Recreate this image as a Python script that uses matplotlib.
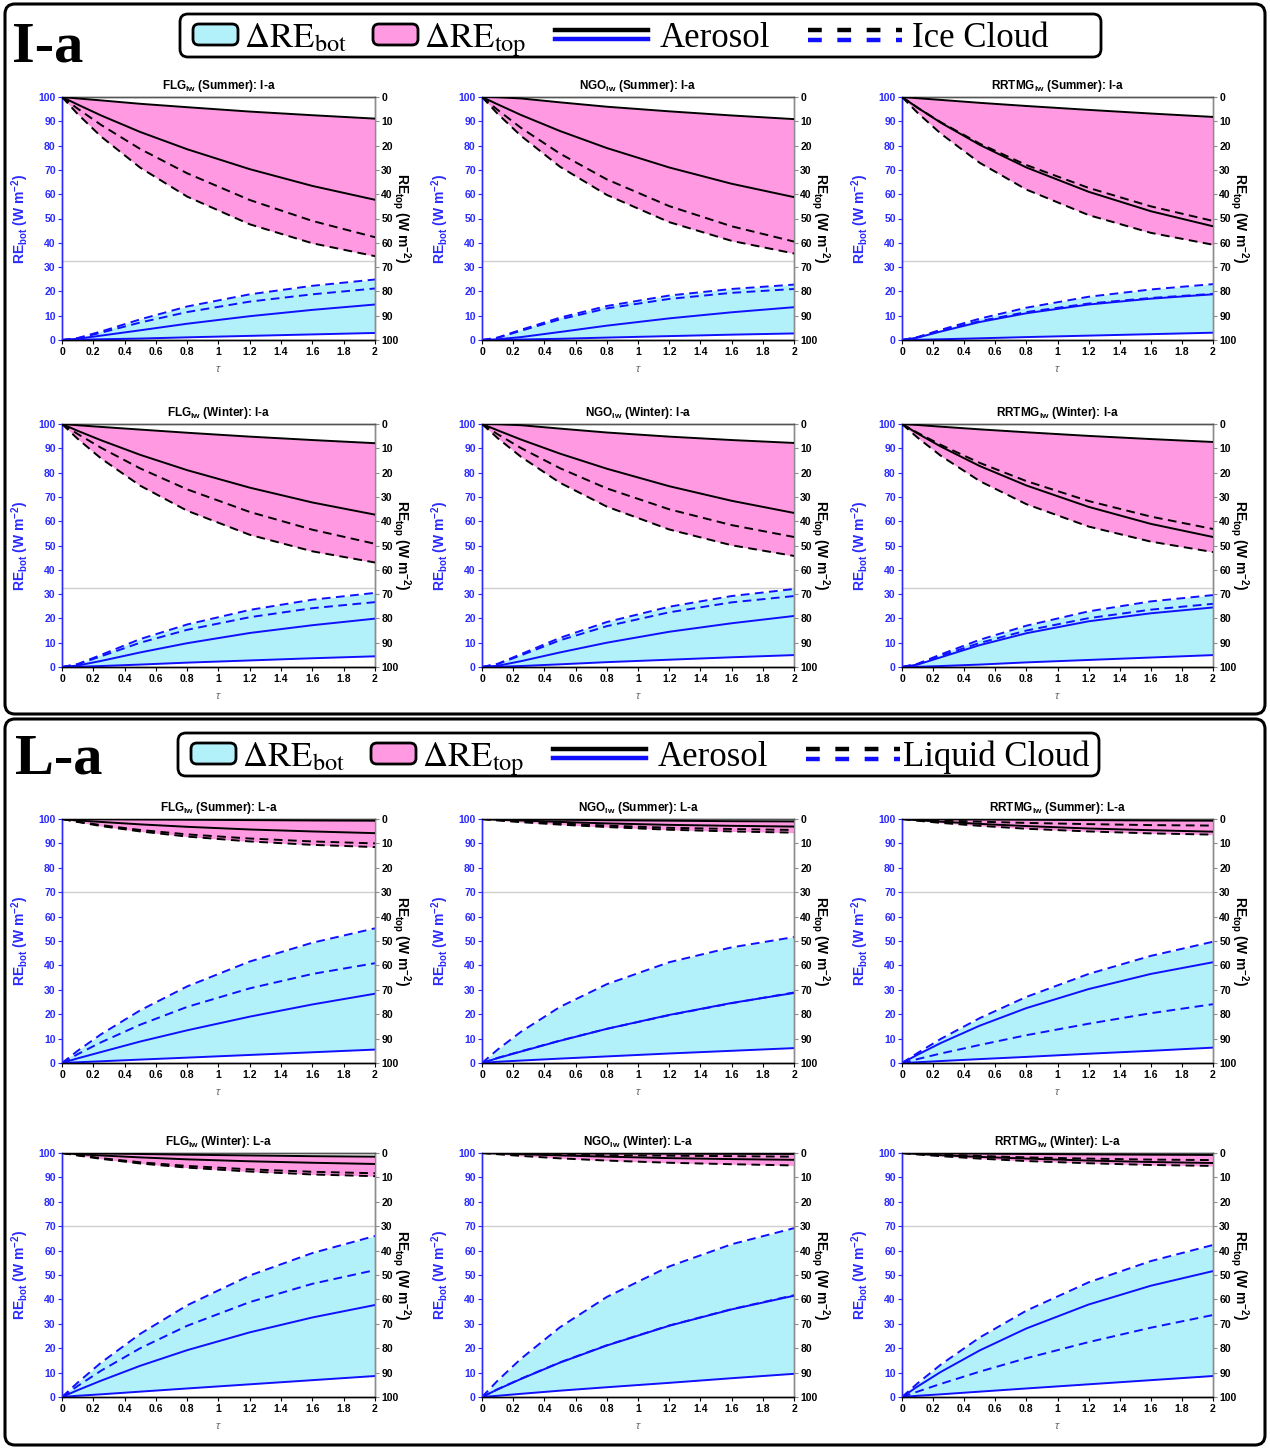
import numpy as np
import matplotlib
matplotlib.use("Agg")
import matplotlib.pyplot as plt
from matplotlib.patches import FancyBboxPatch
from matplotlib.lines import Line2D

CYAN = "#b2f0fa"
PINK = "#ff99e2"
BLUE = "#1010ff"
TICKBLUE = "#2a2aff"
GREY = "#8c8c8c"

plt.rcParams["font.family"] = ["Liberation Sans", "DejaVu Sans"]
plt.rcParams["mathtext.fontset"] = "custom"
plt.rcParams["mathtext.rm"] = "Liberation Sans"
plt.rcParams["mathtext.bf"] = "Liberation Sans:bold"
plt.rcParams["mathtext.it"] = "Liberation Sans:italic"

TAU = [0, 0.1, 0.25, 0.5, 0.8, 1.2, 1.6, 2.0]

# each block: [aerosol a, aerosol b, cloud a, cloud b]
# *_TOP on the RE_top axis (right, inverted), *_BOT on the RE_bot axis (left)
IA_FLG_SUM_TOP = [[0, 0.6, 1.4, 2.8, 4.2, 6.0, 7.5, 8.9],
                  [0, 3.1, 7.6, 14.4, 21.5, 29.7, 36.6, 42.3],
                  [0, 4.8, 11.5, 21.4, 31.4, 42.4, 51.0, 57.7],
                  [0, 7.0, 16.3, 29.1, 41.0, 52.4, 60.2, 65.5]]
IA_FLG_SUM_BOT = [[0, 0.1, 0.3, 0.6, 1.1, 1.7, 2.3, 2.9],
                  [0, 0.5, 1.8, 4.0, 6.7, 9.8, 12.4, 14.6],
                  [0, 0.8, 3.5, 8.5, 13.8, 18.8, 22.3, 24.9],
                  [0, 0.7, 3.0, 7.2, 11.5, 15.8, 18.8, 21.2]]
IA_NGO_SUM_TOP = [[0, 0.1, 0.6, 2.2, 4.0, 5.9, 7.6, 9.1],
                  [0, 3.0, 7.4, 14.0, 21.0, 29.0, 35.7, 41.2],
                  [0, 5.3, 12.7, 23.3, 33.9, 44.9, 53.2, 59.5],
                  [0, 6.9, 16.0, 28.7, 40.3, 51.5, 59.2, 64.4]]
IA_NGO_SUM_BOT = [[0, 0.05, 0.2, 0.5, 1.0, 1.6, 2.2, 2.7],
                  [0, 0.3, 1.2, 3.3, 5.9, 8.9, 11.4, 13.5],
                  [0, 1.0, 4.2, 9.2, 14.0, 18.3, 21.0, 22.8],
                  [0, 0.9, 3.8, 8.5, 13.0, 16.9, 19.4, 21.0]]
IA_RRT_SUM_TOP = [[0, 0.5, 1.2, 2.4, 3.7, 5.3, 6.8, 8.2],
                  [0, 4.4, 10.6, 19.7, 29.0, 39.0, 47.0, 53.2],
                  [0, 4.4, 10.4, 19.2, 28.0, 37.4, 45.0, 51.0],
                  [0, 6.5, 15.1, 27.1, 38.1, 48.6, 55.9, 60.8]]
IA_RRT_SUM_BOT = [[0, 0.1, 0.3, 0.7, 1.2, 1.8, 2.4, 3.0],
                  [0, 1.0, 3.5, 7.4, 11.0, 14.6, 17.0, 18.8],
                  [0, 1.2, 4.2, 8.8, 13.3, 17.8, 20.8, 23.0],
                  [0, 1.1, 3.8, 7.8, 11.5, 15.0, 17.3, 19.0]]
IA_FLG_WIN_TOP = [[0, 0.5, 1.2, 2.3, 3.6, 5.2, 6.6, 7.9],
                  [0, 2.8, 6.7, 12.7, 19.0, 26.2, 32.3, 37.3],
                  [0, 4.1, 9.8, 18.3, 26.9, 36.2, 43.5, 49.3],
                  [0, 6.1, 14.2, 25.4, 35.7, 45.6, 52.4, 57.0]]
IA_FLG_WIN_BOT = [[0, 0.1, 0.4, 1.0, 1.8, 2.7, 3.6, 4.4],
                  [0, 0.6, 2.5, 6.0, 9.8, 14.0, 17.2, 19.9],
                  [0, 1.2, 5.0, 11.5, 17.5, 23.5, 27.7, 30.5],
                  [0, 1.1, 4.4, 10.0, 15.3, 20.5, 24.2, 26.7]]
IA_NGO_WIN_TOP = [[0, 0.1, 0.5, 1.9, 3.5, 5.2, 6.6, 7.8],
                  [0, 2.6, 6.4, 12.2, 18.4, 25.6, 31.6, 36.6],
                  [0, 4.2, 9.9, 18.2, 26.5, 35.1, 41.6, 46.5],
                  [0, 5.8, 13.5, 24.2, 34.0, 43.4, 49.9, 54.3]]
IA_NGO_WIN_BOT = [[0, 0.1, 0.4, 1.1, 2.0, 3.0, 4.0, 4.9],
                  [0, 0.5, 2.4, 6.0, 10.0, 14.5, 18.0, 21.0],
                  [0, 1.3, 5.3, 12.0, 18.5, 24.8, 29.2, 32.1],
                  [0, 1.2, 4.8, 11.0, 16.8, 22.5, 26.6, 29.2]]
IA_RRT_WIN_TOP = [[0, 0.4, 1.1, 2.2, 3.4, 4.9, 6.2, 7.4],
                  [0, 3.9, 9.3, 17.3, 25.3, 34.1, 41.1, 46.5],
                  [0, 3.6, 8.6, 16.0, 23.5, 31.7, 38.1, 43.2],
                  [0, 5.6, 13.1, 23.5, 33.0, 42.2, 48.4, 52.7]]
IA_RRT_WIN_BOT = [[0, 0.1, 0.4, 1.0, 1.9, 2.9, 3.9, 4.9],
                  [0, 1.0, 4.0, 9.0, 13.9, 18.8, 22.1, 24.5],
                  [0, 1.3, 5.2, 11.2, 17.0, 22.9, 27.0, 29.6],
                  [0, 1.2, 4.6, 9.9, 15.0, 20.1, 23.6, 26.0]]

LA_FLG_SUM_TOP = [[0, 0.05, 0.1, 0.2, 0.3, 0.45, 0.6, 0.7],
                  [0, 0.6, 1.2, 2.2, 3.2, 4.3, 5.1, 5.8],
                  [0, 1.1, 2.5, 4.5, 6.3, 8.0, 9.2, 10.0],
                  [0, 1.2, 2.9, 5.1, 7.2, 9.2, 10.6, 11.5]]
LA_FLG_SUM_BOT = [[0, 0.3, 0.7, 1.4, 2.2, 3.3, 4.4, 5.5],
                  [0, 1.9, 4.5, 8.8, 13.4, 19.0, 24.0, 28.4],
                  [0, 5.0, 11.8, 21.6, 31.4, 41.6, 49.3, 55.2],
                  [0, 3.6, 8.5, 15.7, 23.0, 30.6, 36.5, 40.9]]
LA_NGO_SUM_TOP = [[0, 0.05, 0.1, 0.3, 0.5, 0.7, 0.9, 1.0],
                  [0, 0.3, 0.6, 1.2, 1.8, 2.4, 2.8, 3.1],
                  [0, 0.4, 0.9, 1.8, 2.7, 3.6, 4.1, 4.5],
                  [0, 0.6, 1.3, 2.3, 3.3, 4.4, 5.1, 5.6]]
LA_NGO_SUM_BOT = [[0, 0.5, 1.0, 1.8, 2.7, 3.9, 5.0, 6.1],
                  [0, 2.0, 4.7, 9.1, 14.0, 19.7, 24.6, 28.7],
                  [0, 5.5, 12.8, 23.0, 32.3, 41.3, 47.4, 51.6],
                  [0, 2.1, 4.8, 9.2, 14.0, 19.6, 24.5, 28.9]]
LA_RRT_SUM_TOP = [[0, 0.05, 0.1, 0.2, 0.3, 0.45, 0.6, 0.7],
                  [0, 0.5, 1.1, 2.0, 2.9, 3.9, 4.6, 5.2],
                  [0, 0.3, 0.6, 1.1, 1.6, 2.1, 2.5, 2.7],
                  [0, 0.7, 1.6, 2.8, 4.0, 5.1, 5.9, 6.4]]
LA_RRT_SUM_BOT = [[0, 0.3, 0.8, 1.6, 2.5, 3.8, 5.0, 6.3],
                  [0, 3.4, 8.2, 15.3, 22.5, 30.3, 36.5, 41.3],
                  [0, 4.1, 9.9, 18.4, 27.1, 36.5, 43.9, 49.7],
                  [0, 1.6, 3.9, 7.4, 11.4, 16.1, 20.4, 24.1]]
LA_FLG_WIN_TOP = [[0, 0.1, 0.2, 0.4, 0.7, 1.0, 1.3, 1.5],
                  [0, 0.5, 1.0, 1.8, 2.6, 3.4, 4.0, 4.5],
                  [0, 0.9, 2.1, 3.8, 5.3, 6.7, 7.7, 8.3],
                  [0, 1.0, 2.4, 4.3, 6.0, 7.6, 8.8, 9.5]]
LA_FLG_WIN_BOT = [[0, 0.5, 1.1, 2.2, 3.5, 5.2, 6.9, 8.6],
                  [0, 2.8, 6.7, 12.8, 19.2, 26.5, 32.6, 37.7],
                  [0, 5.9, 14.1, 25.9, 37.6, 49.8, 59.0, 66.0],
                  [0, 4.5, 10.8, 20.0, 29.2, 38.9, 46.4, 52.0]]
LA_NGO_WIN_TOP = [[0, 0.03, 0.07, 0.14, 0.2, 0.3, 0.35, 0.4],
                  [0, 0.2, 0.5, 1.0, 1.5, 2.1, 2.5, 2.8],
                  [0, 0.15, 0.3, 0.6, 0.9, 1.1, 1.3, 1.5],
                  [0, 0.5, 1.2, 2.2, 3.1, 4.0, 4.6, 5.1]]
LA_NGO_WIN_BOT = [[0, 0.5, 1.3, 2.6, 4.0, 5.8, 7.7, 9.5],
                  [0, 3.1, 7.4, 14.1, 21.1, 29.2, 35.9, 41.5],
                  [0, 6.7, 15.7, 28.6, 41.0, 53.5, 62.6, 69.2],
                  [0, 3.2, 7.5, 14.2, 21.2, 29.3, 36.0, 41.7]]
LA_RRT_WIN_TOP = [[0, 0.05, 0.1, 0.25, 0.4, 0.55, 0.7, 0.8],
                  [0, 0.4, 0.9, 1.6, 2.3, 3.1, 3.7, 4.1],
                  [0, 0.3, 0.6, 1.2, 1.8, 2.3, 2.7, 2.9],
                  [0, 0.6, 1.3, 2.3, 3.3, 4.2, 4.9, 5.3]]
LA_RRT_WIN_BOT = [[0, 0.5, 1.1, 2.2, 3.5, 5.2, 6.9, 8.6],
                  [0, 4.3, 10.3, 19.1, 28.1, 37.9, 45.6, 51.6],
                  [0, 5.6, 13.3, 24.4, 35.4, 47.0, 55.7, 62.3],
                  [0, 2.2, 5.4, 10.4, 15.9, 22.5, 28.4, 33.6]]

MODELS = ["FLG", "NGO", "RRTMG"]
SEASONS = ["Summer", "Winter"]
IA_TOP = [[IA_FLG_SUM_TOP, IA_NGO_SUM_TOP, IA_RRT_SUM_TOP],
          [IA_FLG_WIN_TOP, IA_NGO_WIN_TOP, IA_RRT_WIN_TOP]]
IA_BOT = [[IA_FLG_SUM_BOT, IA_NGO_SUM_BOT, IA_RRT_SUM_BOT],
          [IA_FLG_WIN_BOT, IA_NGO_WIN_BOT, IA_RRT_WIN_BOT]]
LA_TOP = [[LA_FLG_SUM_TOP, LA_NGO_SUM_TOP, LA_RRT_SUM_TOP],
          [LA_FLG_WIN_TOP, LA_NGO_WIN_TOP, LA_RRT_WIN_TOP]]
LA_BOT = [[LA_FLG_SUM_BOT, LA_NGO_SUM_BOT, LA_RRT_SUM_BOT],
          [LA_FLG_WIN_BOT, LA_NGO_WIN_BOT, LA_RRT_WIN_BOT]]

W, H = 1270, 1448
fig = plt.figure(figsize=(W / 100, H / 100), dpi=100)

# pixel-space background layer for frames and legends
bg = fig.add_axes([0, 0, 1, 1], zorder=-1)
bg.set_xlim(0, W)
bg.set_ylim(H, 0)
bg.axis("off")

COL_X = [(62, 375), (482, 794), (902, 1213)]
DASH = (0, (4.5, 2.8))
TICKS_Y = list(range(0, 101, 10))
TICKS_X = [0, 0.2, 0.4, 0.6, 0.8, 1.0, 1.2, 1.4, 1.6, 1.8, 2.0]


def panel(px, py, model, season, case, top, bot, sep):
    x0, x1 = px
    y0, y1 = py
    ax = fig.add_axes([x0 / W, 1 - y1 / H, (x1 - x0) / W, (y1 - y0) / H])
    ax2 = ax.twinx()

    ax.fill_between(TAU, np.min(bot, axis=0), np.max(bot, axis=0),
                    color=CYAN, lw=0, zorder=1)
    ax.axhline(sep, color="#cfcfcf", lw=1.0, zorder=1.5)
    for i, c in enumerate(bot):
        ax.plot(TAU, c, color=BLUE, lw=1.4, ls="-" if i < 2 else DASH, zorder=3)

    ax2.fill_between(TAU, np.min(top, axis=0), np.max(top, axis=0),
                     color=PINK, lw=0, zorder=1)
    for i, c in enumerate(top):
        ax2.plot(TAU, c, color="black", lw=1.4, ls="-" if i < 2 else DASH, zorder=3)

    ax.set_xlim(0, 2)
    ax.set_ylim(0, 100)
    ax2.set_ylim(100, 0)
    ax.set_xticks(TICKS_X, labels=[f"{v:g}" for v in TICKS_X], fontweight="bold")
    ax.set_yticks(TICKS_Y, labels=[str(v) for v in TICKS_Y], fontweight="bold")
    ax2.set_yticks(TICKS_Y, labels=[str(v) for v in TICKS_Y], fontweight="bold")

    ax.tick_params(axis="y", colors=TICKBLUE, labelsize=7.5, length=3, width=0.8, pad=1.5)
    ax.tick_params(axis="x", colors="black", labelsize=7.5, length=3, width=0.8, pad=2)
    ax2.tick_params(axis="y", colors="black", labelsize=7.5, length=3, width=0.8, pad=1.5)
    for a in (ax, ax2):
        a.spines["left"].set_color(TICKBLUE)
        a.spines["right"].set_color(GREY)
        a.spines["top"].set_color("#555555")
        a.spines["bottom"].set_color("black")
        for s in a.spines.values():
            s.set_linewidth(1.0)
    ax2.yaxis.set_tick_params(color=GREY)

    ax.set_title(r"$\mathbf{%s_{lw}}$ (%s): %s" % (model, season, case),
                 fontsize=8.5, fontweight="bold", pad=6)
    ax.set_xlabel(r"$\tau$", fontsize=8, color="#666666", labelpad=5)
    ax.set_ylabel(r"$\mathbf{RE_{bot}}$ (W m$^{\mathbf{-2}}$)", color=TICKBLUE,
                  fontsize=10, fontweight="bold")
    ax.yaxis.set_label_coords(-0.10, 0.5)
    ax2.set_ylabel(r"$\mathbf{RE_{top}}$ (W m$^{\mathbf{-2}}$)", color="black",
                   fontsize=10, fontweight="bold", rotation=270, va="center")
    ax2.yaxis.set_label_coords(1.085, 0.5)


def legend(y0, box_x0, cloud_name, dx, cloud_x):
    bg.add_patch(FancyBboxPatch((box_x0, y0), 921, 43,
                                boxstyle="round,pad=0,rounding_size=8",
                                fc="white", ec="black", lw=2.0))
    base = y0 + 33
    for px, col, sub in [(193 + dx, CYAN, "bot"), (373 + dx, PINK, "top")]:
        bg.add_patch(FancyBboxPatch((px, y0 + 10), 45, 21,
                                    boxstyle="round,pad=0,rounding_size=6",
                                    fc=col, ec="black", lw=2.0))
        bg.text(px + 51, base, r"$\Delta\mathrm{RE}_{\mathrm{%s}}$" % sub,
                math_fontfamily="stix", fontsize=25, va="baseline")
    bg.add_line(Line2D([555 + dx, 648 + dx], [y0 + 16, y0 + 16], color="black", lw=3.2))
    bg.add_line(Line2D([555 + dx, 648 + dx], [y0 + 25, y0 + 25], color=BLUE, lw=3.2))
    bg.text(660 + dx, base, "Aerosol", family="Liberation Serif", fontsize=25,
            va="baseline")
    bg.add_line(Line2D([808 + dx, 902 + dx], [y0 + 16, y0 + 16], color="black",
                       lw=3.2, ls=(0, (3.1, 3.5))))
    bg.add_line(Line2D([808 + dx, 902 + dx], [y0 + 26, y0 + 26], color=BLUE,
                       lw=3.2, ls=(0, (3.1, 3.5))))
    bg.text(cloud_x, base, cloud_name, family="Liberation Serif", fontsize=25,
            va="baseline")


# outer frames
for y0, hgt in [(4, 710), (719, 726)]:
    bg.add_patch(FancyBboxPatch((5, y0), 1260, hgt,
                                boxstyle="round,pad=0,rounding_size=10",
                                fill=False, ec="black", lw=2.2))
bg.text(12, 62, "I-a", family="Liberation Serif", fontsize=42,
        fontweight="bold", va="baseline")
bg.text(15, 773, "L-a", family="Liberation Serif", fontsize=42,
        fontweight="bold", va="baseline")
legend(14, 180, "Ice Cloud", 0, 912)
legend(733, 178, "Liquid Cloud", -2, 903)

ROWS_IA = [(97, 340), (424, 667)]
ROWS_LA = [(819, 1063), (1153, 1397)]
for r in range(2):
    for c in range(3):
        panel(COL_X[c], ROWS_IA[r], MODELS[c], SEASONS[r], "I-a",
              IA_TOP[r][c], IA_BOT[r][c], 32.5)
        panel(COL_X[c], ROWS_LA[r], MODELS[c], SEASONS[r], "L-a",
              LA_TOP[r][c], LA_BOT[r][c], 70)

fig.savefig("out.png", dpi=100, facecolor="white")
